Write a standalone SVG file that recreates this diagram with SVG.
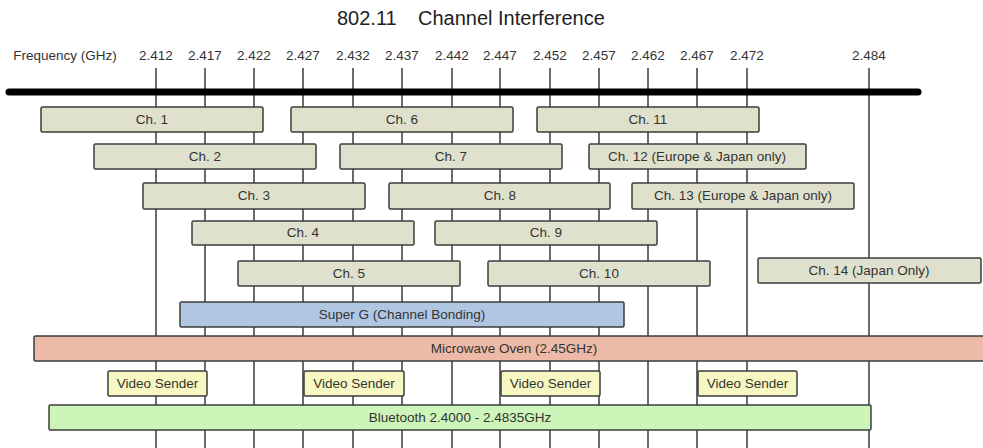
<svg xmlns="http://www.w3.org/2000/svg" width="983" height="448" viewBox="0 0 983 448">
<style>
text{font-family:"Liberation Sans",Arial,sans-serif;fill:#333;}
.t{font-size:13.5px;text-anchor:middle;}
.f{font-size:13.5px;text-anchor:middle;}
.title{font-size:20px;fill:#222;}
.g{stroke:#3a3a3a;stroke-width:1.5;}
.box{stroke:#3c3c3c;stroke-width:1.5;}
.ch{fill:#dfe1cd;}
.sg{fill:#b1c6e3;}
.mw{fill:#ecbaa6;}
.vs{fill:#f7f7c2;}
.bt{fill:#cdf4b9;}
</style>
<rect width="983" height="448" fill="#fff"/>
<text class="title" y="25"><tspan x="337">802.11</tspan><tspan x="418">Channel Interference</tspan></text>
<g id="axis-labels">
<text x="65" y="60" style="font-size:13.5px;text-anchor:middle">Frequency (GHz)</text>
<text class="f" x="156" y="60">2.412</text>
<text class="f" x="205" y="60">2.417</text>
<text class="f" x="254" y="60">2.422</text>
<text class="f" x="303" y="60">2.427</text>
<text class="f" x="353" y="60">2.432</text>
<text class="f" x="402" y="60">2.437</text>
<text class="f" x="452" y="60">2.442</text>
<text class="f" x="500" y="60">2.447</text>
<text class="f" x="550" y="60">2.452</text>
<text class="f" x="599" y="60">2.457</text>
<text class="f" x="648" y="60">2.462</text>
<text class="f" x="697" y="60">2.467</text>
<text class="f" x="747" y="60">2.472</text>
<text class="f" x="869" y="60">2.484</text>
</g>
<g id="connectors">
<line class="g" x1="156" y1="68" x2="156" y2="448"/>
<line class="g" x1="205" y1="68" x2="205" y2="448"/>
<line class="g" x1="254" y1="68" x2="254" y2="448"/>
<line class="g" x1="303" y1="68" x2="303" y2="448"/>
<line class="g" x1="353" y1="68" x2="353" y2="448"/>
<line class="g" x1="402" y1="68" x2="402" y2="448"/>
<line class="g" x1="452" y1="68" x2="452" y2="448"/>
<line class="g" x1="500" y1="68" x2="500" y2="448"/>
<line class="g" x1="550" y1="68" x2="550" y2="448"/>
<line class="g" x1="599" y1="68" x2="599" y2="448"/>
<line class="g" x1="648" y1="68" x2="648" y2="448"/>
<line class="g" x1="697" y1="68" x2="697" y2="448"/>
<line class="g" x1="747" y1="68" x2="747" y2="448"/>
<line class="g" x1="869" y1="68" x2="869" y2="448"/>
<line x1="9" y1="92" x2="918" y2="92" stroke="#000" stroke-width="7" stroke-linecap="round"/>
</g>
<g id="ch1"><rect class="box ch" x="41" y="107" width="222" height="25" rx="1.5"/><text class="t" x="152" y="124">Ch. 1</text></g>
<g id="ch6"><rect class="box ch" x="291" y="107" width="222" height="25" rx="1.5"/><text class="t" x="402" y="124">Ch. 6</text></g>
<g id="ch11"><rect class="box ch" x="537" y="107" width="222" height="25" rx="1.5"/><text class="t" x="648" y="124">Ch. 11</text></g>
<g id="ch2"><rect class="box ch" x="94" y="144" width="222" height="25" rx="1.5"/><text class="t" x="205" y="161">Ch. 2</text></g>
<g id="ch7"><rect class="box ch" x="340" y="144" width="222" height="25" rx="1.5"/><text class="t" x="451" y="161">Ch. 7</text></g>
<g id="ch12"><rect class="box ch" x="589" y="144" width="217" height="25" rx="1.5"/><text class="t" x="697" y="161">Ch. 12 (Europe &amp; Japan only)</text></g>
<g id="ch3"><rect class="box ch" x="143" y="183" width="222" height="26" rx="1.5"/><text class="t" x="254" y="200">Ch. 3</text></g>
<g id="ch8"><rect class="box ch" x="389" y="183" width="221" height="26" rx="1.5"/><text class="t" x="500" y="200">Ch. 8</text></g>
<g id="ch13"><rect class="box ch" x="632" y="183" width="222" height="26" rx="1.5"/><text class="t" x="743" y="200">Ch. 13 (Europe &amp; Japan only)</text></g>
<g id="ch4"><rect class="box ch" x="192" y="221" width="222" height="24" rx="1.5"/><text class="t" x="303" y="237">Ch. 4</text></g>
<g id="ch9"><rect class="box ch" x="435" y="221" width="222" height="24" rx="1.5"/><text class="t" x="546" y="237">Ch. 9</text></g>
<g id="ch5"><rect class="box ch" x="238" y="261" width="222" height="25" rx="1.5"/><text class="t" x="349" y="278">Ch. 5</text></g>
<g id="ch10"><rect class="box ch" x="488" y="261" width="222" height="25" rx="1.5"/><text class="t" x="599" y="278">Ch. 10</text></g>
<g id="ch14"><rect class="box ch" x="758" y="258" width="223" height="25" rx="1.5"/><text class="t" x="869" y="275">Ch. 14 (Japan Only)</text></g>
<g id="superg"><rect class="box sg" x="180" y="302" width="444" height="25" rx="1.5"/><text class="t" x="402" y="319">Super G (Channel Bonding)</text></g>
<g id="microwave"><rect class="box mw" x="34" y="336" width="960" height="25" rx="1.5"/><text class="t" x="514" y="353">Microwave Oven (2.45GHz)</text></g>
<g id="vs1"><rect class="box vs" x="108" y="371" width="99" height="25" rx="1.5"/><text class="t" x="157.5" y="388">Video Sender</text></g>
<g id="vs2"><rect class="box vs" x="304" y="371" width="100" height="25" rx="1.5"/><text class="t" x="354" y="388">Video Sender</text></g>
<g id="vs3"><rect class="box vs" x="501" y="371" width="99" height="25" rx="1.5"/><text class="t" x="550.5" y="388">Video Sender</text></g>
<g id="vs4"><rect class="box vs" x="698" y="371" width="99" height="25" rx="1.5"/><text class="t" x="747.5" y="388">Video Sender</text></g>
<g id="bluetooth"><rect class="box bt" x="49" y="405" width="822" height="25" rx="1.5"/><text class="t" x="460" y="422">Bluetooth 2.4000 - 2.4835GHz</text></g>
</svg>
